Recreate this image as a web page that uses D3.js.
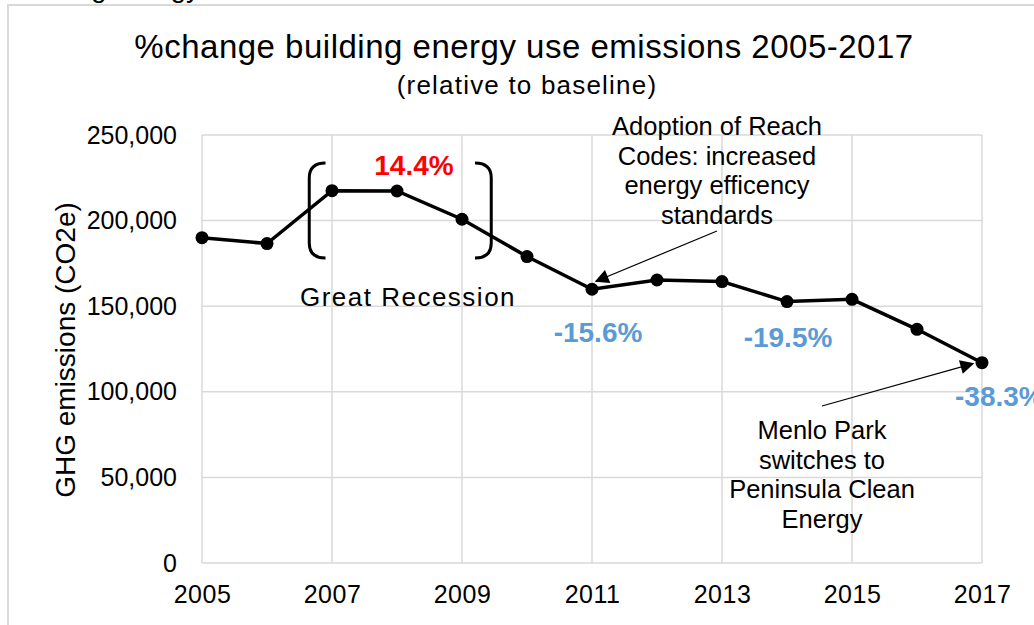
<!DOCTYPE html>
<html>
<head>
<meta charset="utf-8">
<script src="https://cdn.jsdelivr.net/npm/d3@7"></script>
<style>
  body { margin: 0; background: #fff; }
  text { font-family: "Liberation Sans", Arial, sans-serif; }
</style>
</head>
<body>
<script>
// data
const years = [2005, 2006, 2007, 2008, 2009, 2010, 2011, 2012, 2013, 2014, 2015, 2016, 2017];
const emissions = [190000, 186600, 217500, 217300, 200800, 179000, 159900, 165300, 164400, 152700, 154000, 136500, 117000];
const yTicks = [0, 50000, 100000, 150000, 200000, 250000];
const xTicks = [2005, 2007, 2009, 2011, 2013, 2015, 2017];
const pctLabels = [
  { year: 2008, text: "14.4%", color: "#ff0000" },
  { year: 2011, text: "-15.6%", color: "#5b9bd5" },
  { year: 2014, text: "-19.5%", color: "#5b9bd5" },
  { year: 2017, text: "-38.3%", color: "#5b9bd5" }
];

const W = 1034, H = 625;
const margin = { top: 135, right: 52, bottom: 62, left: 202 };
const width = W - margin.left - margin.right;
const height = H - margin.top - margin.bottom;

const root = d3.select("body").append("svg")
    .attr("width", W)
    .attr("height", H);

// arrowhead
root.append("defs").append("marker")
    .attr("id", "arrow")
    .attr("viewBox", "0 0 10 10")
    .attr("refX", 9).attr("refY", 5)
    .attr("markerWidth", 15).attr("markerHeight", 14)
    .attr("markerUnits", "userSpaceOnUse")
    .attr("orient", "auto")
    .append("path")
    .attr("d", "M0,0L10,5L0,10Z")
    .attr("fill", "#000");

// outer frame + clipped text above it
root.append("text")
    .attr("x", 200).attr("y", -3)
    .attr("text-anchor", "end")
    .style("font-size", "28px")
    .text("Building energy");
root.append("path")
    .attr("d", `M8,${H}V5H${W}`)
    .attr("fill", "none")
    .attr("stroke", "#d9d9d9")
    .attr("stroke-width", 2);

// titles
root.append("text")
    .attr("x", 524).attr("y", 58)
    .attr("text-anchor", "middle")
    .style("font-size", "33px")
    .style("letter-spacing", "0.5px")
    .text("%change building energy use emissions 2005-2017");
root.append("text")
    .attr("x", 527).attr("y", 94)
    .attr("text-anchor", "middle")
    .style("font-size", "26px")
    .style("letter-spacing", "1.2px")
    .text("(relative to baseline)");

const svg = root.append("g")
    .attr("transform", `translate(${margin.left},${margin.top})`);

const x = d3.scaleLinear().domain([2005, 2017]).range([0, width]);
const y = d3.scaleLinear().domain([0, 250000]).range([height, 0]);

// grid
svg.append("g")
    .selectAll("line.h")
    .data(yTicks)
    .enter().append("line")
    .attr("x1", 0).attr("x2", width)
    .attr("y1", d => y(d)).attr("y2", d => y(d))
    .attr("stroke", "#d9d9d9").attr("stroke-width", 1.5);
svg.append("g")
    .selectAll("line.v")
    .data(xTicks)
    .enter().append("line")
    .attr("x1", d => x(d)).attr("x2", d => x(d))
    .attr("y1", 0).attr("y2", height)
    .attr("stroke", "#d9d9d9").attr("stroke-width", 1.5);

// axes
const yAxis = svg.append("g")
    .call(d3.axisLeft(y).tickValues(yTicks).tickFormat(d3.format(",")).tickSize(0).tickPadding(25));
const xAxis = svg.append("g")
    .attr("transform", `translate(0,${height})`)
    .call(d3.axisBottom(x).tickValues(xTicks).tickFormat(d3.format("d")).tickSize(0).tickPadding(22));
[yAxis, xAxis].forEach(a => {
  a.select(".domain").remove();
  a.selectAll("text")
    .attr("fill", "#000")
    .style("font-family", "'Liberation Sans', Arial, sans-serif")
    .style("font-size", "25px");
});
xAxis.selectAll("text").style("letter-spacing", "0.5px");

root.append("text")
    .attr("transform", "translate(75,350) rotate(-90)")
    .attr("text-anchor", "middle")
    .style("font-size", "28px")
    .text("GHG emissions (CO2e)");

// brackets around the recession years
const bTop = 163 - margin.top, bBot = 258 - margin.top;
svg.append("path")
    .attr("d", `M${x(2006.9)},${bTop} Q${x(2006.65)},${bTop} ${x(2006.65)},${bTop + 15} V${bBot - 15} Q${x(2006.65)},${bBot} ${x(2006.9)},${bBot}`)
    .attr("fill", "none").attr("stroke", "#000").attr("stroke-width", 3);
svg.append("path")
    .attr("d", `M${x(2009.2)},${bTop} Q${x(2009.45)},${bTop} ${x(2009.45)},${bTop + 15} V${bBot - 15} Q${x(2009.45)},${bBot} ${x(2009.2)},${bBot}`)
    .attr("fill", "none").attr("stroke", "#000").attr("stroke-width", 3);

// series
const data = years.map((yr, i) => ({ year: yr, value: emissions[i] }));
svg.append("path")
    .datum(data)
    .attr("fill", "none")
    .attr("stroke", "#000")
    .attr("stroke-width", 3.5)
    .attr("d", d3.line().x(d => x(d.year)).y(d => y(d.value)));
svg.append("g")
    .selectAll("circle")
    .data(data)
    .enter().append("circle")
    .attr("r", 6.5)
    .attr("cx", d => x(d.year))
    .attr("cy", d => y(d.value))
    .attr("fill", "#000");

// percent labels (offset from their point, anchor)
const pctPos = { 2008: [17, -16, "middle"], 2011: [6, 53, "middle"], 2014: [1, 45, "middle"], 2017: [-27, 43, "start"] };
svg.append("g")
    .selectAll("text")
    .data(pctLabels)
    .enter().append("text")
    .attr("x", d => x(d.year) + pctPos[d.year][0])
    .attr("y", d => y(emissions[years.indexOf(d.year)]) + pctPos[d.year][1])
    .attr("text-anchor", d => pctPos[d.year][2])
    .attr("fill", d => d.color)
    .style("font-size", "28px")
    .style("font-weight", "bold")
    .text(d => d.text);

// notes
const notes = [
  { x: 408, y: 306, ls: 1.5, size: 26, lines: ["Great Recession"] },
  { x: 717, y: 135, ls: 0, size: 25.5, lines: ["Adoption of Reach", "Codes: increased", "energy efficency", "standards"] },
  { x: 822, y: 439, ls: 0, size: 25.5, lines: ["Menlo Park", "switches to", "Peninsula Clean", "Energy"] }
];
notes.forEach(n => {
  const t = root.append("text")
      .attr("text-anchor", "middle")
      .style("font-size", n.size + "px")
      .style("letter-spacing", n.ls + "px");
  n.lines.forEach((l, i) => {
    t.append("tspan").attr("x", n.x).attr("y", n.y + i * 29.5).text(l);
  });
});

// arrows to the 2011 and 2017 points
const i11 = years.indexOf(2011), i17 = years.indexOf(2017);
root.append("line")
    .attr("x1", 717).attr("y1", 231)
    .attr("x2", margin.left + x(2011) + 4).attr("y2", margin.top + y(emissions[i11]) - 8)
    .attr("stroke", "#000").attr("stroke-width", 1.2)
    .attr("marker-end", "url(#arrow)");
root.append("line")
    .attr("x1", 822).attr("y1", 406)
    .attr("x2", margin.left + x(2017) - 9).attr("y2", margin.top + y(emissions[i17]) + 1)
    .attr("stroke", "#000").attr("stroke-width", 1.2)
    .attr("marker-end", "url(#arrow)");
</script>
</body>
</html>
